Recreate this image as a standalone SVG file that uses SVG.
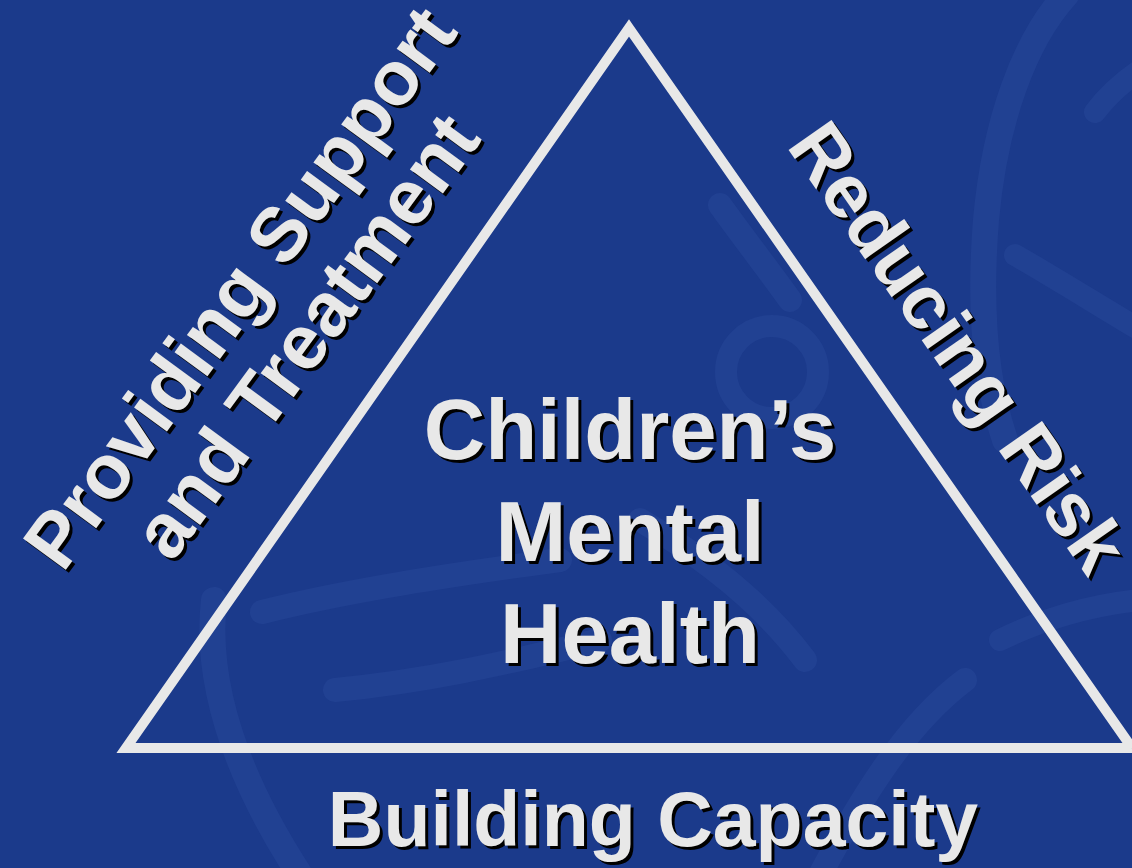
<svg xmlns="http://www.w3.org/2000/svg" xmlns:xlink="http://www.w3.org/1999/xlink" width="1132" height="868" viewBox="0 0 1132 868">
  <style>
    .bg { fill: #1b3a8b; }
    .wm { fill: none; stroke: #28489a; stroke-linecap: round; stroke-linejoin: round; opacity: 0.5; }
    .tri { fill: none; stroke: #e8e8e8; stroke-width: 10; stroke-linejoin: miter; stroke-miterlimit: 10; }
    .lbl { font-family: "Liberation Sans", Arial, sans-serif; font-weight: bold; text-anchor: middle; }
    .sh { fill: #000000; }
    .fg { fill: #e8e8e8; }
  </style>
  <defs>
    <text id="t-left" class="lbl" font-size="77" transform="translate(261,303) rotate(-53.8)"><tspan x="0" y="0">Providing Support</tspan><tspan x="0" y="82">and Treatment</tspan></text>
    <text id="t-right" class="lbl" font-size="76" transform="translate(937,362) rotate(55.06)"><tspan x="0" y="0">Reducing Risk</tspan></text>
    <text id="t-center" class="lbl" font-size="85"><tspan x="630" y="459">Children’s</tspan><tspan x="630" y="561">Mental</tspan><tspan x="630" y="663">Health</tspan></text>
    <text id="t-bottom" class="lbl" font-size="77" x="653" y="846">Building Capacity</text>
  </defs>

  <rect class="bg" x="0" y="0" width="1132" height="868"/>

  <g id="watermark">
    <path class="wm" stroke-width="26" d="M1066,-5 C1025,40 995,120 986,220 C978,320 988,390 1005,440"/>
    <path class="wm" stroke-width="22" d="M1140,70 C1118,85 1104,100 1095,112"/>
    <path class="wm" stroke-width="22" d="M1015,255 C1050,275 1090,300 1140,330"/>
    <circle class="wm" stroke-width="22" cx="772" cy="372" r="46"/>
    <path class="wm" stroke-width="24" d="M720,205 C745,240 765,265 790,300"/>
    <path class="wm" stroke-width="26" d="M214,600 C205,680 232,770 300,875"/>
    <path class="wm" stroke-width="24" d="M262,612 C350,590 450,575 560,560"/>
    <path class="wm" stroke-width="24" d="M335,690 C420,682 500,665 600,640"/>
    <path class="wm" stroke-width="24" d="M640,520 C700,555 760,600 805,660"/>
    <path class="wm" stroke-width="24" d="M820,875 C860,800 905,725 965,680"/>
    <path class="wm" stroke-width="22" d="M1000,640 C1040,620 1090,605 1140,600"/>
  </g>

  <g id="connectors">
    <path id="triangle" class="tri" d="M629,28 L1132,748 L126,748 Z"/>
  </g>

  <g id="node-left">
    <use xlink:href="#t-left" href="#t-left" class="sh" transform="translate(3,3)"/>
    <use xlink:href="#t-left" href="#t-left" class="fg"/>
  </g>
  <g id="node-right">
    <use xlink:href="#t-right" href="#t-right" class="sh" transform="translate(3,3)"/>
    <use xlink:href="#t-right" href="#t-right" class="fg"/>
  </g>
  <g id="node-center">
    <use xlink:href="#t-center" href="#t-center" class="sh" transform="translate(3,3)"/>
    <use xlink:href="#t-center" href="#t-center" class="fg"/>
  </g>
  <g id="node-bottom">
    <use xlink:href="#t-bottom" href="#t-bottom" class="sh" transform="translate(3,3)"/>
    <use xlink:href="#t-bottom" href="#t-bottom" class="fg"/>
  </g>
</svg>
